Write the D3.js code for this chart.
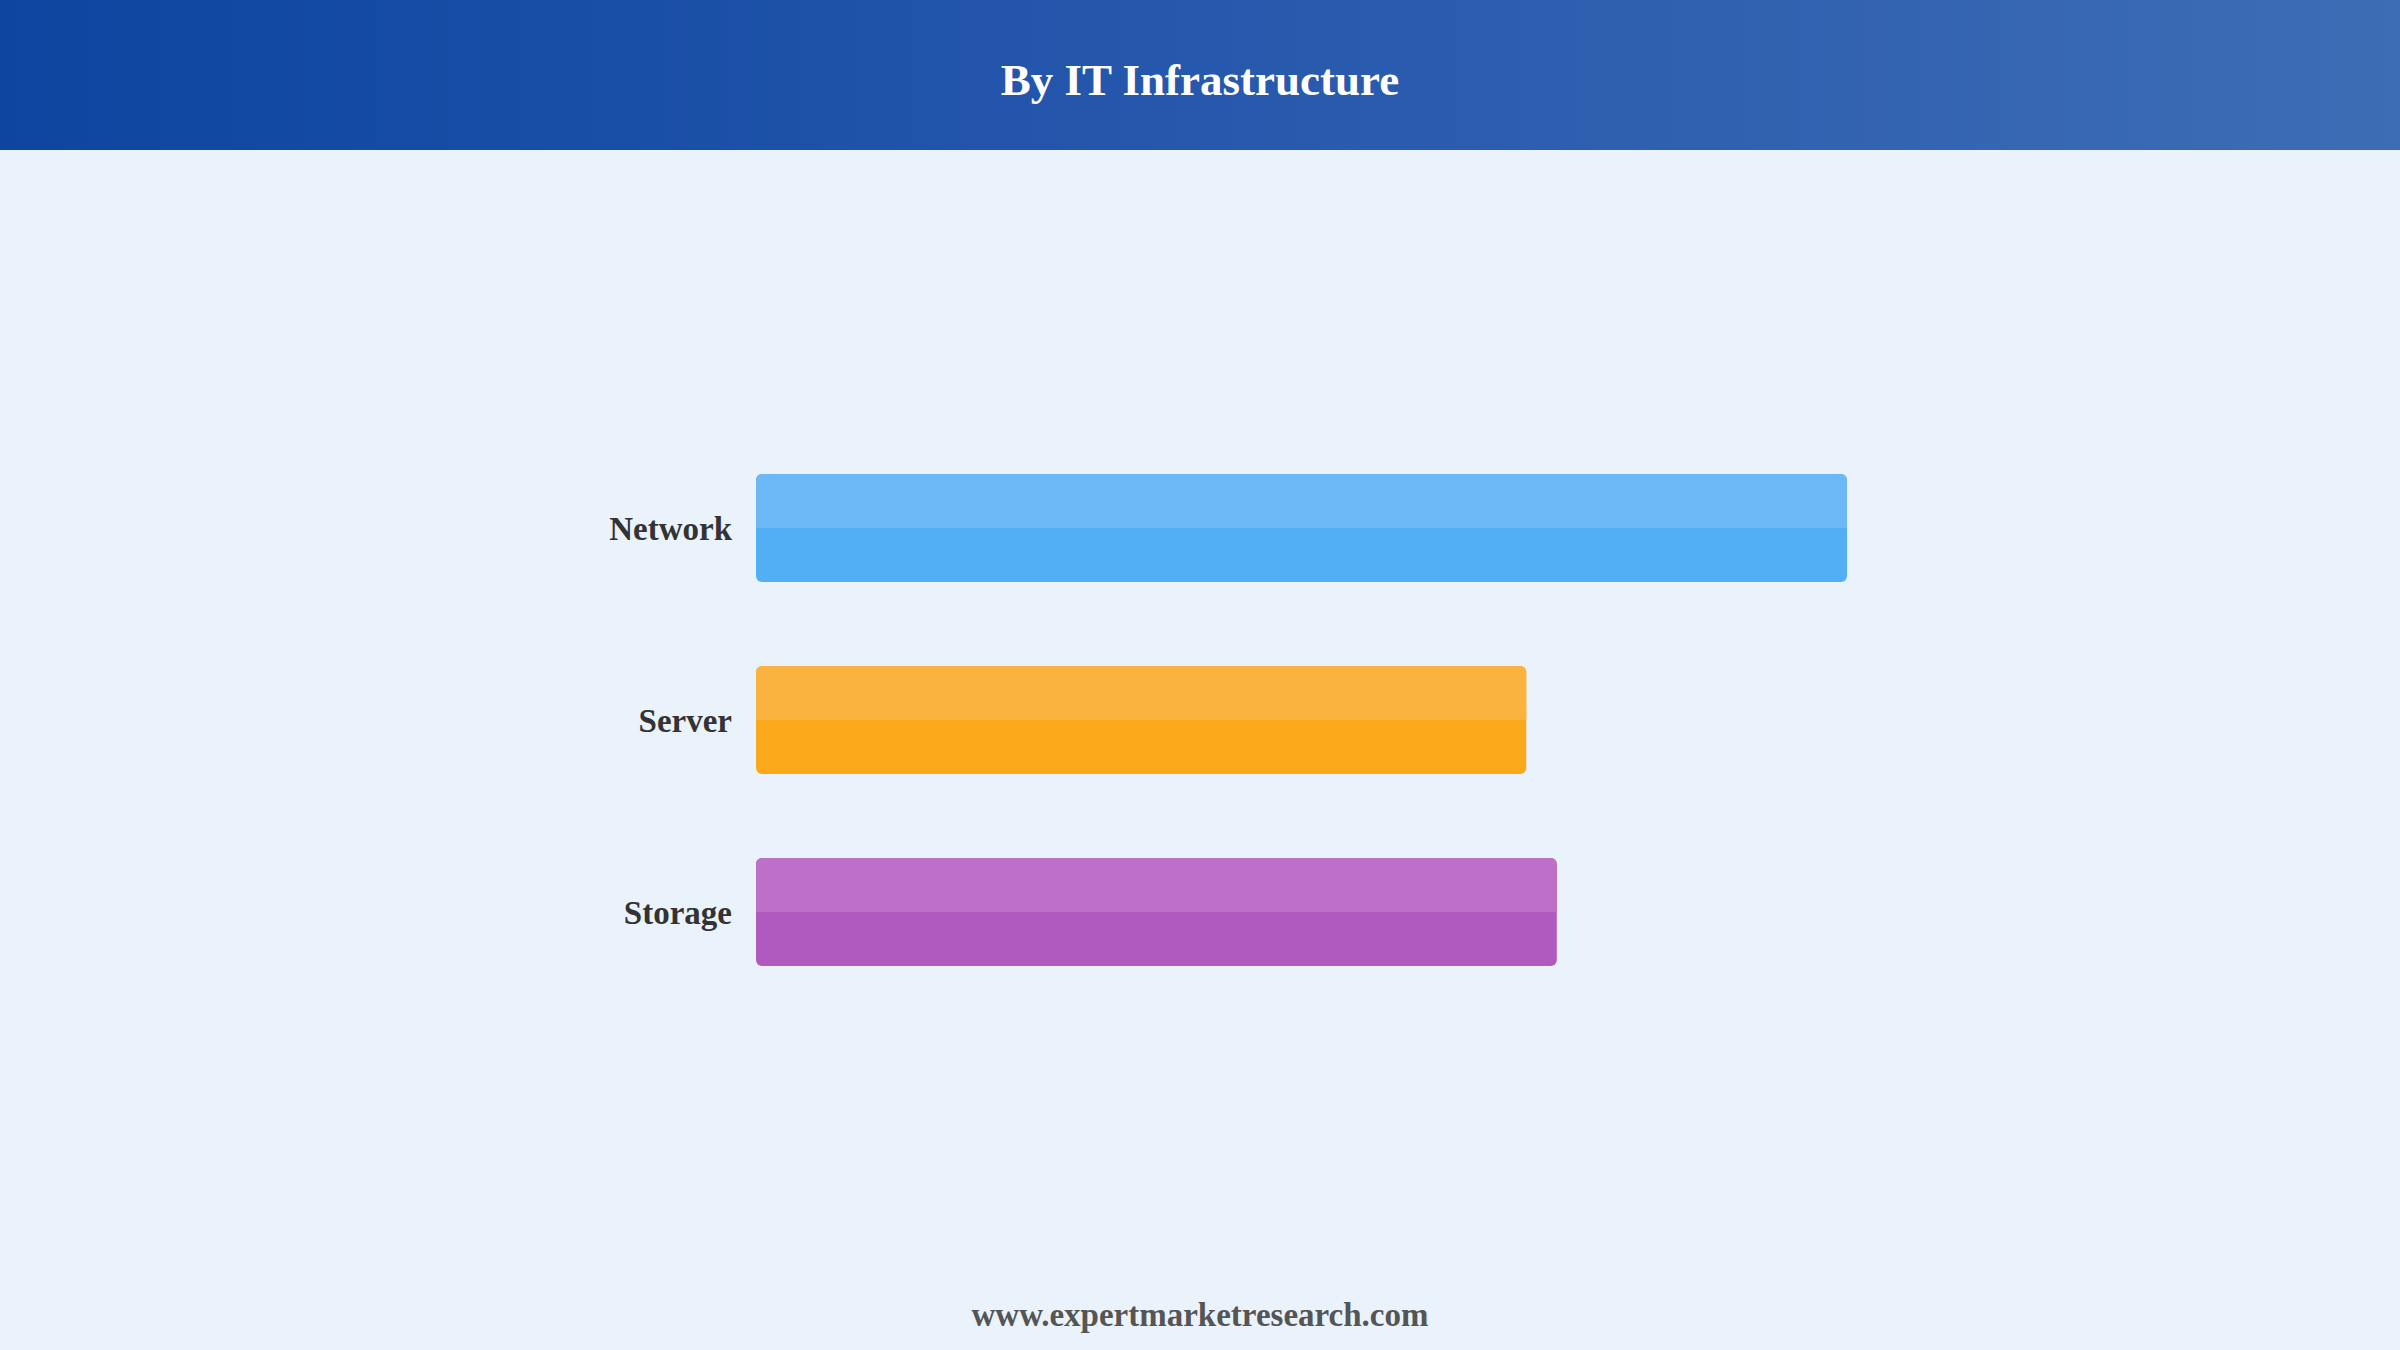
<!DOCTYPE html>
<html>
<head>
<meta charset="utf-8">
<script src="https://cdn.jsdelivr.net/npm/d3@7"></script>
<style>
  html, body { margin: 0; padding: 0; background: #eaf2fc; }
  svg { display: block; }
</style>
</head>
<body>
<div id="chart"></div>
<script>
// data
let categories = ["Network", "Server", "Storage"];
let values = [100, 70.6, 73.4]; // relative bar lengths
let colorsTop = ["#6db8f7", "#fbb33f", "#be70c9"];
let colorsBottom = ["#52aef5", "#fba81a", "#b05abf"];

// options
let width = 2400;
let height = 1350;
let headerHeight = 150;
let x0 = 756, x1 = 1847;

let svg = d3.select("#chart").append("svg")
    .attr("width", width)
    .attr("height", height);

let defs = svg.append("defs");
let grad = defs.append("linearGradient")
    .attr("id", "headerGrad")
    .attr("x1", "0%").attr("x2", "100%")
    .attr("y1", "0%").attr("y2", "0%");
grad.append("stop").attr("offset", "0%").attr("stop-color", "#0d45a0");
grad.append("stop").attr("offset", "50%").attr("stop-color", "#2658ad");
grad.append("stop").attr("offset", "100%").attr("stop-color", "#3d6db5");

svg.append("rect")
    .attr("width", width).attr("height", height)
    .style("fill", "#eaf2fc");

svg.append("rect")
    .attr("width", width).attr("height", headerHeight)
    .style("fill", "url(#headerGrad)");

svg.append("text")
    .attr("x", width / 2)
    .attr("y", 95)
    .attr("text-anchor", "middle")
    .style("font-family", "'Liberation Serif', 'Times New Roman', serif")
    .style("font-weight", "bold")
    .style("font-size", "45px")
    .style("fill", "#ffffff")
    .text("By IT Infrastructure");

// scales
let x_scale = d3.scaleLinear()
    .domain([0, d3.max(values)])
    .range([x0, x1]);

let y_scale = d3.scaleBand()
    .domain(categories)
    .range([378, 1062])
    .paddingInner(0.4375)
    .paddingOuter(0.5);

let bars = svg.append("g").attr("id", "bars")
    .selectAll("g")
    .data(categories)
    .enter()
    .append("g");

let bw = y_scale.bandwidth();

bars.append("rect")
    .attr("x", x_scale(0))
    .attr("y", d => y_scale(d))
    .attr("width", (d, i) => x_scale(values[i]) - x_scale(0))
    .attr("height", bw)
    .attr("rx", 6)
    .style("fill", (d, i) => colorsBottom[i]);

bars.append("rect")
    .attr("x", x_scale(0))
    .attr("y", d => y_scale(d))
    .attr("width", (d, i) => x_scale(values[i]) - x_scale(0))
    .attr("height", bw / 2)
    .attr("rx", 6)
    .style("fill", (d, i) => colorsTop[i]);

// cover lower rounded corners of the top half
bars.append("rect")
    .attr("x", x_scale(0))
    .attr("y", d => y_scale(d) + bw / 2 - 8)
    .attr("width", (d, i) => x_scale(values[i]) - x_scale(0))
    .attr("height", 8)
    .style("fill", (d, i) => colorsTop[i]);

// category labels
let y_ax = d3.axisLeft(y_scale).tickSize(0).tickPadding(24);
let axG = svg.append("g")
    .attr("transform", `translate(${x0},0)`)
    .call(y_ax);
axG.select(".domain").remove();
axG.selectAll("text")
    .style("font-family", "'Liberation Serif', 'Times New Roman', serif")
    .style("font-weight", "bold")
    .style("font-size", "33px")
    .style("fill", "#333333")
    .attr("dy", "0.36em");

svg.append("text")
    .attr("x", width / 2)
    .attr("y", 1326)
    .attr("text-anchor", "middle")
    .style("font-family", "'Liberation Serif', 'Times New Roman', serif")
    .style("font-weight", "bold")
    .style("font-size", "33px")
    .style("fill", "#555555")
    .text("www.expertmarketresearch.com");
</script>
</body>
</html>
